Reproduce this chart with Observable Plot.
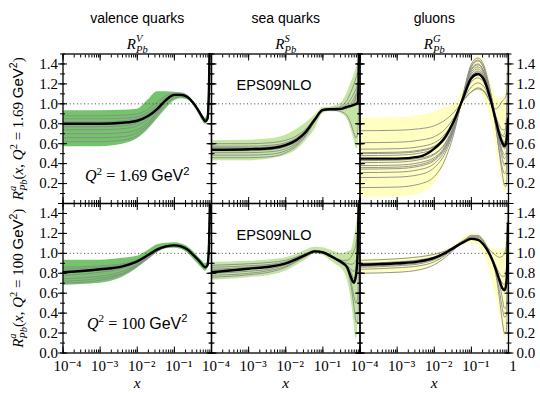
<!DOCTYPE html>
<html><head><meta charset="utf-8">
<script src="https://cdn.jsdelivr.net/npm/d3@7"></script>
<script src="https://cdn.jsdelivr.net/npm/@observablehq/plot@0.6"></script>
<style>
html,body{margin:0;padding:0;background:#fff;}
#chart{width:540px;height:393px;}
#chart text{white-space:pre;}
</style></head><body><div id="chart"></div>
<script>
// ---------------- data ----------------
const xGrid = [1e-4, 1e-3, 4e-3, 1e-2, 2e-2, 3.5e-2, 0.06, 0.1, 0.15, 0.22, 0.32, 0.45, 0.57, 0.68, 0.78, 0.86, 0.92, 0.97];

const columnKeys = ["V", "S", "G"];
const columnNames = ["valence quarks", "sea quarks", "gluons"];
const columnSymbols = ["R^V_Pb", "R^S_Pb", "R^G_Pb"];
const rowKeys = ["1.69", "100"];
const rowTitles = ["R^a_Pb(x, Q^2 = 1.69 GeV^2)", "R^a_Pb(x, Q^2 = 100 GeV^2)"];
const scaleLabels = ["Q^2 = 1.69 GeV^2", "Q^2 = 100 GeV^2"];
const setName = "EPS09NLO";
const yTicksTop = [0.2, 0.4, 0.6, 0.8, 1.0, 1.2, 1.4];
const yTicksBottom = [0.0, 0.2, 0.4, 0.6, 0.8, 1.0, 1.2, 1.4];
const xTickValues = [1e-4, 1e-3, 1e-2, 1e-1, 1];

// valence, Q^2 = 1.69
const valLowCentral = [0.80, 0.80, 0.81, 0.83, 0.88, 0.95, 1.04, 1.09, 1.09, 1.07, 1.01, 0.93, 0.865, 0.825, 0.85, 1.2, 2.0, 2.6];
const valLowUpper   = [0.93, 0.93, 0.935, 0.945, 1.04, 1.12, 1.12, 1.115, 1.11, 1.09, 1.03, 0.95, 0.89, 0.855, 0.89, 1.4, 2.3, 3.0];
const valLowLower   = [0.57, 0.57, 0.595, 0.65, 0.745, 0.85, 0.95, 1.03, 1.05, 1.04, 0.99, 0.90, 0.83, 0.795, 0.81, 1.0, 1.6, 2.2];
const valLowErr = [
  [0.88, 0.88, 0.885, 0.90, 0.95, 1.02, 1.08, 1.10, 1.10, 1.08, 1.02, 0.94, 0.88, 0.84, 0.87, 1.25, 2.0, 2.6],
  [0.85, 0.85, 0.855, 0.87, 0.92, 0.99, 1.06, 1.095, 1.095, 1.075, 1.015, 0.935, 0.875, 0.835, 0.865, 1.22, 2.0, 2.6],
  [0.82, 0.82, 0.83, 0.85, 0.90, 0.97, 1.05, 1.09, 1.09, 1.07, 1.01, 0.93, 0.87, 0.83, 0.86, 1.2, 2.0, 2.6],
  [0.79, 0.79, 0.80, 0.825, 0.88, 0.96, 1.045, 1.09, 1.09, 1.07, 1.01, 0.93, 0.87, 0.83, 0.86, 1.2, 2.0, 2.6],
  [0.77, 0.77, 0.78, 0.81, 0.87, 0.95, 1.04, 1.085, 1.09, 1.07, 1.01, 0.93, 0.87, 0.83, 0.855, 1.18, 1.9, 2.5],
  [0.74, 0.74, 0.75, 0.78, 0.85, 0.95, 1.05, 1.10, 1.10, 1.075, 1.01, 0.93, 0.865, 0.825, 0.85, 1.15, 1.9, 2.5],
  [0.70, 0.70, 0.71, 0.74, 0.82, 0.92, 1.02, 1.08, 1.085, 1.065, 1.005, 0.925, 0.865, 0.83, 0.86, 1.2, 2.0, 2.6],
  [0.66, 0.66, 0.67, 0.71, 0.80, 0.92, 1.04, 1.10, 1.10, 1.08, 1.02, 0.94, 0.88, 0.845, 0.875, 1.25, 2.0, 2.6],
  [0.62, 0.62, 0.635, 0.68, 0.78, 0.89, 1.00, 1.06, 1.075, 1.06, 1.0, 0.92, 0.86, 0.815, 0.84, 1.1, 1.8, 2.4]
];

// sea, Q^2 = 1.69
const seaLowCentral = [0.54, 0.545, 0.555, 0.585, 0.64, 0.72, 0.84, 0.94, 0.946, 0.946, 0.95, 0.97, 0.98, 0.99, 1.0, 1.01, 1.2, 2.0];
const seaLowUpper   = [0.63, 0.635, 0.65, 0.685, 0.745, 0.81, 0.88, 0.96, 0.965, 0.98, 1.01, 1.11, 1.21, 1.28, 1.35, 1.41, 1.6, 2.2];
const seaLowLower   = [0.43, 0.43, 0.45, 0.485, 0.54, 0.63, 0.74, 0.90, 0.92, 0.92, 0.90, 0.85, 0.75, 0.645, 0.56, 0.545, 0.68, 1.0];
const seaLowErr = [
  [0.60, 0.60, 0.61, 0.635, 0.68, 0.75, 0.855, 0.945, 0.955, 0.96, 0.98, 1.04, 1.12, 1.19, 1.26, 1.32, 1.6, 2.2],
  [0.575, 0.575, 0.585, 0.61, 0.66, 0.74, 0.85, 0.943, 0.95, 0.955, 0.965, 1.0, 1.05, 1.10, 1.15, 1.2, 1.5, 2.1],
  [0.56, 0.56, 0.57, 0.60, 0.65, 0.73, 0.845, 0.94, 0.948, 0.95, 0.955, 0.98, 1.01, 1.05, 1.10, 1.12, 1.4, 2.0],
  [0.53, 0.53, 0.54, 0.57, 0.625, 0.71, 0.835, 0.94, 0.945, 0.945, 0.948, 0.965, 0.985, 1.02, 1.08, 1.22, 1.5, 2.1],
  [0.51, 0.51, 0.52, 0.55, 0.61, 0.70, 0.83, 0.935, 0.945, 0.945, 0.95, 0.96, 0.97, 0.98, 0.99, 1.0, 1.3, 2.0],
  [0.485, 0.485, 0.495, 0.53, 0.595, 0.69, 0.825, 0.93, 0.94, 0.935, 0.92, 0.88, 0.80, 0.71, 0.66, 0.70, 1.0, 1.7],
  [0.46, 0.46, 0.47, 0.51, 0.58, 0.68, 0.82, 0.925, 0.94, 0.94, 0.945, 0.955, 0.975, 1.0, 1.06, 1.15, 1.45, 2.0]
];

// gluons, Q^2 = 1.69
const gluLowCentral = [0.45, 0.45, 0.47, 0.55, 0.67, 0.84, 1.06, 1.26, 1.30, 1.24, 1.06, 0.84, 0.69, 0.61, 0.575, 0.60, 0.70, 0.85];
const gluLowUpper   = [0.855, 0.86, 0.88, 0.915, 0.965, 0.99, 1.15, 1.40, 1.48, 1.43, 1.25, 1.08, 1.05, 1.06, 1.08, 1.15, 1.4, 1.8];
const gluLowLower   = [0.06, 0.065, 0.095, 0.195, 0.41, 0.70, 0.98, 1.10, 1.13, 1.06, 0.88, 0.58, 0.345, 0.18, 0.10, 0.12, 0.3, 0.8];
const gluLowErr = [
  [0.73, 0.735, 0.75, 0.78, 0.84, 0.92, 1.03, 1.12, 1.16, 1.13, 1.02, 0.88, 0.78, 0.74, 0.74, 0.78, 0.95, 1.4],
  [0.61, 0.615, 0.635, 0.67, 0.75, 0.87, 1.04, 1.17, 1.21, 1.17, 1.04, 0.87, 0.74, 0.68, 0.67, 0.70, 0.9, 1.4],
  [0.545, 0.55, 0.57, 0.61, 0.70, 0.85, 1.05, 1.22, 1.26, 1.21, 1.06, 0.87, 0.72, 0.64, 0.62, 0.66, 0.85, 1.4],
  [0.51, 0.515, 0.535, 0.575, 0.67, 0.83, 1.05, 1.24, 1.29, 1.23, 1.07, 0.86, 0.70, 0.62, 0.60, 0.63, 0.85, 1.45],
  [0.50, 0.505, 0.525, 0.57, 0.67, 0.84, 1.03, 1.12, 1.15, 1.12, 1.02, 0.95, 0.98, 1.03, 1.05, 1.08, 1.25, 1.6],
  [0.48, 0.485, 0.505, 0.55, 0.65, 0.82, 1.06, 1.27, 1.32, 1.26, 1.08, 0.85, 0.67, 0.58, 0.55, 0.58, 0.8, 1.4],
  [0.43, 0.435, 0.455, 0.50, 0.61, 0.80, 1.06, 1.28, 1.33, 1.27, 1.09, 0.86, 0.68, 0.60, 0.58, 0.62, 0.85, 1.5],
  [0.41, 0.415, 0.44, 0.49, 0.60, 0.79, 1.07, 1.30, 1.35, 1.28, 1.09, 0.84, 0.64, 0.53, 0.49, 0.51, 0.7, 1.3],
  [0.38, 0.385, 0.41, 0.46, 0.58, 0.78, 1.07, 1.32, 1.37, 1.30, 1.10, 0.86, 0.69, 0.62, 0.61, 0.65, 0.9, 1.5],
  [0.36, 0.365, 0.39, 0.445, 0.57, 0.78, 1.07, 1.34, 1.39, 1.31, 1.08, 0.78, 0.52, 0.36, 0.30, 0.32, 0.5, 1.0],
  [0.345, 0.35, 0.375, 0.43, 0.56, 0.77, 1.08, 1.35, 1.40, 1.32, 1.10, 0.83, 0.62, 0.50, 0.45, 0.47, 0.65, 1.2],
  [0.31, 0.315, 0.34, 0.40, 0.54, 0.76, 1.08, 1.37, 1.43, 1.35, 1.13, 0.88, 0.72, 0.68, 0.70, 0.80, 1.05, 1.5],
  [0.26, 0.265, 0.29, 0.36, 0.51, 0.75, 1.09, 1.40, 1.46, 1.38, 1.14, 0.84, 0.60, 0.45, 0.38, 0.40, 0.6, 1.1],
  [0.16, 0.165, 0.195, 0.27, 0.45, 0.72, 1.10, 1.38, 1.44, 1.36, 1.10, 0.78, 0.50, 0.30, 0.18, 0.17, 0.35, 0.9]
];

// valence, Q^2 = 100
const valHighCentral = [0.81, 0.84, 0.87, 0.92, 0.985, 1.04, 1.07, 1.08, 1.07, 1.04, 0.985, 0.93, 0.885, 0.86, 0.88, 1.1, 1.6, 2.2];
const valHighUpper   = [0.93, 0.93, 0.95, 0.97, 1.03, 1.085, 1.10, 1.105, 1.095, 1.07, 1.02, 0.96, 0.92, 0.895, 0.91, 1.3, 2.0, 2.5];
const valHighLower   = [0.68, 0.70, 0.76, 0.85, 0.94, 1.01, 1.045, 1.05, 1.04, 1.005, 0.945, 0.885, 0.845, 0.82, 0.84, 0.95, 1.3, 1.9];
const valHighErr = [
  [0.86, 0.875, 0.895, 0.935, 0.99, 1.045, 1.075, 1.085, 1.075, 1.045, 0.99, 0.935, 0.89, 0.865, 0.885, 1.12, 1.65, 2.2],
  [0.84, 0.86, 0.885, 0.93, 0.99, 1.04, 1.07, 1.08, 1.07, 1.04, 0.985, 0.93, 0.885, 0.86, 0.88, 1.1, 1.6, 2.2],
  [0.80, 0.83, 0.86, 0.915, 0.98, 1.035, 1.068, 1.078, 1.068, 1.038, 0.983, 0.928, 0.883, 0.858, 0.878, 1.1, 1.6, 2.2],
  [0.78, 0.81, 0.85, 0.91, 0.975, 1.035, 1.07, 1.08, 1.07, 1.04, 0.985, 0.93, 0.885, 0.86, 0.88, 1.1, 1.6, 2.2],
  [0.745, 0.77, 0.82, 0.89, 0.965, 1.03, 1.065, 1.08, 1.07, 1.04, 0.985, 0.93, 0.885, 0.86, 0.88, 1.1, 1.6, 2.2],
  [0.72, 0.75, 0.80, 0.88, 0.96, 1.025, 1.065, 1.075, 1.065, 1.035, 0.98, 0.925, 0.88, 0.855, 0.875, 1.08, 1.6, 2.2],
  [0.70, 0.73, 0.79, 0.87, 0.95, 1.02, 1.06, 1.075, 1.07, 1.04, 0.985, 0.93, 0.885, 0.86, 0.88, 1.08, 1.55, 2.2]
];

// sea, Q^2 = 100
const seaHighCentral = [0.81, 0.845, 0.868, 0.90, 0.945, 0.985, 1.02, 1.01, 0.98, 0.945, 0.91, 0.86, 0.76, 0.705, 0.78, 1.0, 1.5, 2.2];
const seaHighUpper   = [0.91, 0.92, 0.935, 0.955, 0.99, 1.03, 1.06, 1.055, 1.035, 1.01, 0.995, 1.01, 1.03, 1.13, 1.26, 1.4, 1.7, 2.2];
const seaHighLower   = [0.73, 0.755, 0.78, 0.82, 0.88, 0.935, 0.99, 0.98, 0.935, 0.89, 0.845, 0.74, 0.55, 0.33, 0.14, 0.20, 0.7, 1.5];
const seaHighErr = [
  [0.88, 0.895, 0.91, 0.93, 0.965, 1.0, 1.03, 1.02, 0.99, 0.955, 0.925, 0.90, 0.89, 0.90, 0.93, 1.05, 1.5, 2.2],
  [0.86, 0.875, 0.89, 0.915, 0.955, 0.995, 1.025, 1.015, 0.985, 0.95, 0.915, 0.88, 0.84, 0.82, 0.85, 1.0, 1.45, 2.1],
  [0.84, 0.86, 0.88, 0.905, 0.95, 0.99, 1.02, 1.01, 0.98, 0.945, 0.91, 0.87, 0.81, 0.75, 0.78, 0.95, 1.4, 2.0],
  [0.83, 0.85, 0.87, 0.90, 0.945, 0.985, 1.02, 1.01, 0.98, 0.95, 0.93, 0.93, 0.96, 1.02, 1.1, 1.25, 1.6, 2.2],
  [0.80, 0.82, 0.845, 0.885, 0.935, 0.98, 1.015, 1.005, 0.975, 0.94, 0.905, 0.86, 0.78, 0.72, 0.76, 0.95, 1.5, 2.1],
  [0.78, 0.80, 0.83, 0.87, 0.925, 0.975, 1.015, 1.005, 0.975, 0.94, 0.90, 0.85, 0.72, 0.58, 0.50, 0.55, 0.9, 1.6],
  [0.76, 0.785, 0.815, 0.86, 0.92, 0.97, 1.01, 1.0, 0.97, 0.935, 0.895, 0.84, 0.68, 0.48, 0.32, 0.30, 0.6, 1.4]
];

// gluons, Q^2 = 100
const gluHighCentral = [0.885, 0.90, 0.92, 0.955, 1.005, 1.06, 1.11, 1.145, 1.135, 1.08, 0.98, 0.845, 0.73, 0.65, 0.63, 0.68, 0.85, 1.3];
const gluHighUpper   = [0.945, 0.95, 0.97, 0.995, 1.03, 1.08, 1.155, 1.20, 1.195, 1.145, 1.06, 1.035, 1.03, 1.045, 1.06, 1.13, 1.35, 1.8];
const gluHighLower   = [0.79, 0.80, 0.82, 0.88, 0.955, 1.03, 1.08, 1.095, 1.08, 0.98, 0.81, 0.58, 0.395, 0.24, 0.14, 0.16, 0.35, 0.9];
const gluHighErr = [
  [0.93, 0.945, 0.965, 0.99, 1.025, 1.07, 1.13, 1.16, 1.15, 1.10, 1.03, 0.98, 0.96, 0.97, 1.0, 1.06, 1.25, 1.7],
  [0.90, 0.915, 0.935, 0.965, 1.01, 1.065, 1.12, 1.15, 1.14, 1.09, 0.99, 0.87, 0.76, 0.70, 0.69, 0.73, 0.9, 1.4],
  [0.895, 0.91, 0.93, 0.96, 1.005, 1.06, 1.115, 1.15, 1.14, 1.085, 0.985, 0.86, 0.74, 0.66, 0.64, 0.69, 0.87, 1.35],
  [0.87, 0.885, 0.905, 0.945, 1.0, 1.06, 1.12, 1.16, 1.16, 1.11, 1.0, 0.88, 0.80, 0.77, 0.77, 0.82, 1.0, 1.5],
  [0.86, 0.875, 0.895, 0.935, 0.99, 1.05, 1.11, 1.14, 1.14, 1.09, 0.98, 0.80, 0.55, 0.32, 0.20, 0.21, 0.4, 1.0],
  [0.84, 0.855, 0.875, 0.915, 0.98, 1.05, 1.12, 1.17, 1.17, 1.11, 0.99, 0.82, 0.62, 0.45, 0.36, 0.37, 0.55, 1.1],
  [0.80, 0.81, 0.835, 0.885, 0.96, 1.04, 1.12, 1.18, 1.18, 1.12, 1.0, 0.85, 0.70, 0.55, 0.45, 0.45, 0.65, 1.2]
];

const bandColors = {V: "#74c46c", S: "#c4e6a2", G: "#ffffc2"};

// ---------------- tables ----------------
const panels = [
  {col: "V", row: "1.69", central: valLowCentral, upper: valLowUpper, lower: valLowLower, err: valLowErr},
  {col: "S", row: "1.69", central: seaLowCentral, upper: seaLowUpper, lower: seaLowLower, err: seaLowErr},
  {col: "G", row: "1.69", central: gluLowCentral, upper: gluLowUpper, lower: gluLowLower, err: gluLowErr},
  {col: "V", row: "100", central: valHighCentral, upper: valHighUpper, lower: valHighLower, err: valHighErr},
  {col: "S", row: "100", central: seaHighCentral, upper: seaHighUpper, lower: seaHighLower, err: seaHighErr},
  {col: "G", row: "100", central: gluHighCentral, upper: gluHighUpper, lower: gluHighLower, err: gluHighErr}
];
const bandRows = panels.flatMap(p => xGrid.map((x, i) => ({col: p.col, row: p.row, x, lo: p.lower[i], hi: p.upper[i]})));
const centralRows = panels.flatMap(p => xGrid.map((x, i) => ({col: p.col, row: p.row, id: p.col + p.row, x, y: p.central[i]})));
const errRows = panels.flatMap(p => p.err.flatMap((s, k) => xGrid.map((x, i) => ({col: p.col, row: p.row, id: p.col + p.row + k, x, y: s[i]}))));

const yLabelRows = [...yTicksTop.map(v => ({row: rowKeys[0], v})), ...yTicksBottom.map(v => ({row: rowKeys[1], v}))];
const xLabelRows = columnKeys.flatMap((c, j) => xTickValues.filter(v => v < 1 || j === columnKeys.length - 1).map(v => ({col: c, v})));
const colRows = columnKeys.map((c, j) => ({col: c, name: columnNames[j], sym: columnSymbols[j]}));
const rowRows = rowKeys.map((r, j) => ({row: r, title: rowTitles[j], scale: scaleLabels[j]}));

const supMap = {"-": "\u207B", "0": "\u2070", "1": "\u00B9", "2": "\u00B2", "3": "\u00B3", "4": "\u2074", "5": "\u2075"};
const fmtX = v => v === 1 ? "1" : "10" + String(Math.round(Math.log10(v))).split("").map(ch => supMap[ch]).join("");

const SERIF = "'Liberation Serif', 'DejaVu Serif', serif";
const SANS = "'Liberation Sans', 'DejaVu Sans', sans-serif";
const first = () => "V", last = () => "G", topRow = () => "1.69", botRow = () => "100";

const chart = Plot.plot({
  width: 540, height: 393,
  marginLeft: 62.5, marginRight: 32, marginTop: 53.5, marginBottom: 40.5,
  style: {background: "white", color: "black", fontFamily: SERIF, fontSize: "14px", overflow: "visible"},
  x: {type: "log", domain: [1e-4, 1]},
  y: {domain: [0, 1.5]},
  fx: {domain: columnKeys, padding: 0, round: false, axis: null},
  fy: {domain: rowKeys, padding: 0, round: false, axis: null},
  marks: [
    ...columnKeys.map(c => Plot.areaY(bandRows.filter(d => d.col === c), {
      x: "x", y1: "lo", y2: "hi", fx: "col", fy: "row", fill: bandColors[c], curve: "monotone-x", clip: true
    })),
    Plot.line(errRows, {x: "x", y: "y", z: "id", fx: "col", fy: "row", stroke: "#8a8a8a", strokeWidth: 0.9, curve: "monotone-x", clip: true}),
    Plot.ruleY([1], {stroke: "#444", strokeWidth: 1, strokeDasharray: "1,2.6"}),
    Plot.line(centralRows, {x: "x", y: "y", z: "id", fx: "col", fy: "row", stroke: "black", strokeWidth: 2.4, curve: "monotone-x", clip: true}),
    Plot.frame({stroke: "black", strokeWidth: 1.3}),
    // tick marks (both sides of every panel)
    Plot.axisY({anchor: "left", facetAnchor: null, ticks: 8, tickSize: 9, dx: 4.5, fill: "none", label: null}),
    Plot.axisY({anchor: "left", facetAnchor: null, ticks: 15, tickSize: 5, dx: 2.5, fill: "none", label: null}),
    Plot.axisY({anchor: "right", facetAnchor: null, ticks: 8, tickSize: 9, dx: -4.5, fill: "none", label: null}),
    Plot.axisY({anchor: "right", facetAnchor: null, ticks: 15, tickSize: 5, dx: -2.5, fill: "none", label: null}),
    Plot.axisX({anchor: "bottom", facetAnchor: null, ticks: xTickValues, tickSize: 6, dy: -6, fill: "none", label: null}),
    Plot.axisX({anchor: "bottom", facetAnchor: null, ticks: 10, tickSize: 3, dy: -3, fill: "none", label: null}),
    Plot.axisX({anchor: "top", facetAnchor: null, ticks: xTickValues, tickSize: 6, dy: 6, fill: "none", label: null}),
    Plot.axisX({anchor: "top", facetAnchor: null, ticks: 10, tickSize: 3, dy: 3, fill: "none", label: null}),
    // tick labels
    Plot.text(yLabelRows, {y: "v", fy: "row", fx: first, frameAnchor: "left", dx: -5, textAnchor: "end", text: d => d.v.toFixed(1), fontFamily: SERIF, fontSize: 15}),
    Plot.text(yLabelRows, {y: "v", fy: "row", fx: last, frameAnchor: "right", dx: 8, textAnchor: "start", text: d => d.v.toFixed(1), fontFamily: SERIF, fontSize: 15}),
    Plot.text(xLabelRows, {x: "v", fx: "col", fy: botRow, frameAnchor: "bottom", dx: 4.5, dy: 17.5, textAnchor: "middle", text: d => fmtX(d.v), fontFamily: SERIF, fontSize: 15}),
    Plot.text(colRows, {fx: "col", fy: botRow, frameAnchor: "bottom", dy: 35, textAnchor: "middle", text: () => "x", fontFamily: SERIF, fontStyle: "italic", fontSize: 15.5}),
    // titles
    Plot.text(colRows, {fx: "col", fy: topRow, frameAnchor: "top", dy: -41, textAnchor: "middle", text: "name", fontFamily: SANS, fontSize: 14}),
    Plot.text(colRows, {fx: "col", fy: topRow, frameAnchor: "top", dy: -16, textAnchor: "middle", text: "sym", fontFamily: SERIF, fontSize: 15}),
    Plot.text(rowRows, {fy: "row", fx: first, frameAnchor: "left", dx: -45, rotate: -90, textAnchor: "middle", text: "title", fontFamily: SERIF, fontSize: 15}),
    Plot.text(rowRows.slice(0, 1), {fy: "row", fx: first, frameAnchor: "top", dy: 116, textAnchor: "middle", text: "scale", fontFamily: SERIF, fontSize: 16}),
    Plot.text(rowRows.slice(1), {fy: "row", fx: first, frameAnchor: "top", dy: 114, textAnchor: "middle", text: "scale", fontFamily: SERIF, fontSize: 16}),
    Plot.text(rowRows, {fy: "row", fx: () => "S", frameAnchor: "top-left", dx: 25, dy: 26, textAnchor: "start", text: () => setName, fontFamily: SANS, fontSize: 14.5})
  ]
});
document.getElementById("chart").append(chart);

// ---------------- math-style text (sub/superscripts) ----------------
const seg = (t, f, i, pos) => ({t, f, i, pos});
const it = t => seg(t, SERIF, true, "base"), rm = t => seg(t, SERIF, false, "base"), sf = t => seg(t, SANS, false, "base");
const RPb = s => [it("R"), seg("Pb", SERIF, true, "sub"), seg(s, SERIF, true, "stack")];
const rich = {
  "R^V_Pb": RPb("V"), "R^S_Pb": RPb("S"), "R^G_Pb": RPb("G"),
  "R^a_Pb(x, Q^2 = 1.69 GeV^2)": [...RPb("a"), rm("("), it("x"), rm(", "), it("Q"), seg("2", SERIF, false, "sup"), rm(" = 1.69 "), sf("GeV"), seg("2", SANS, false, "sup"), rm(")")],
  "R^a_Pb(x, Q^2 = 100 GeV^2)": [...RPb("a"), rm("("), it("x"), rm(", "), it("Q"), seg("2", SERIF, false, "sup"), rm(" = 100 "), sf("GeV"), seg("2", SANS, false, "sup"), rm(")")],
  "Q^2 = 1.69 GeV^2": [it("Q"), seg("2", SERIF, false, "sup"), rm(" = 1.69 "), sf("GeV"), seg("2", SANS, false, "sup")],
  "Q^2 = 100 GeV^2": [it("Q"), seg("2", SERIF, false, "sup"), rm(" = 100 "), sf("GeV"), seg("2", SANS, false, "sup")]
};
d3.select(chart).selectAll("text").each(function() {
  const segs = rich[this.textContent];
  if (!segs) return;
  const fs = parseFloat(getComputedStyle(this).fontSize) || 14;
  const el = d3.select(this).text(null);
  let cur = 0, subW = 0, pending = 0;
  for (const s of segs) {
    const ts = el.append("tspan").text(s.t).attr("font-family", s.f).attr("font-style", s.i ? "italic" : "normal");
    if (s.pos !== "base") ts.attr("font-size", fs * 0.7);
    const target = s.pos === "sup" ? -0.42 * fs : s.pos === "stack" ? -0.45 * fs : s.pos === "sub" ? 0.28 * fs : 0;
    if (target !== cur) ts.attr("dy", target - cur);
    cur = target;
    let dx = pending; pending = 0;
    if (s.pos === "stack") dx -= subW;
    if (dx) ts.attr("dx", dx);
    const w = ts.node().getComputedTextLength();
    if (s.pos === "sub") subW = w;
    if (s.pos === "stack") pending = Math.max(0, subW - w);
  }
});
</script>
</body></html>
